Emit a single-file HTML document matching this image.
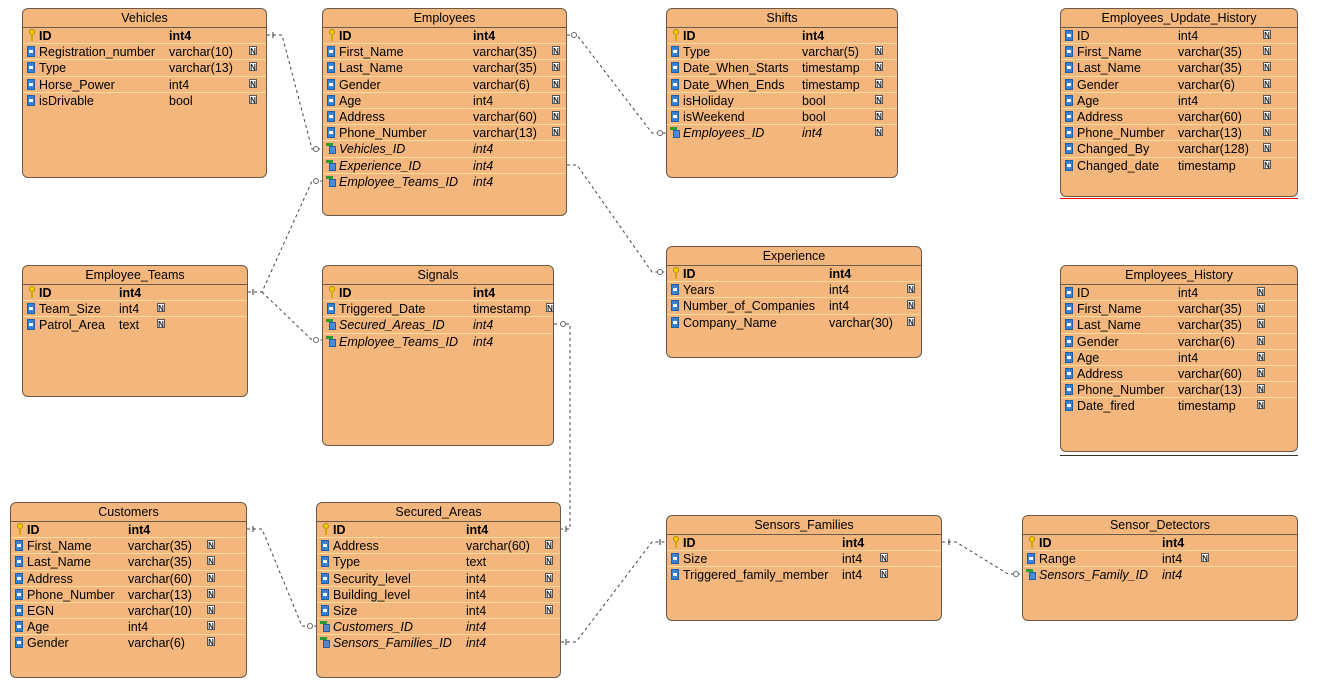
<!DOCTYPE html>
<html><head><meta charset="utf-8"><style>
body{margin:0;width:1319px;height:691px;background:#fff;position:relative;overflow:hidden;font-family:"Liberation Sans",Arial,sans-serif;font-size:12.5px;color:#000}
.t{position:absolute;background:#F3B77D;border:1px solid #6b5a4a;border-radius:6px;box-sizing:border-box}
.h{height:18px;line-height:18px;text-align:center;border-bottom:1px solid #6b5a4a}
.r{position:relative;height:16.2px;line-height:16px;border-bottom:1px solid #f8dca0;box-sizing:border-box;white-space:nowrap}
.r.last{border-bottom:none}
.r span{position:absolute;top:0}
.n{left:16px}
.k{font-weight:bold}
.f{font-style:italic}
.ic{position:absolute;left:4px;top:2px;width:8px;height:11px;background:#3b7fd0;border:1px solid #1f5fa8;box-sizing:border-box}
.ic::after{content:"";position:absolute;left:1px;top:3px;width:4px;height:3px;background:#fff}
.key{position:absolute;left:6px;top:1px;width:4px;height:4px;border:1px solid #b08a00;border-radius:50%;background:#f2d000}
.key::after{content:"";position:absolute;left:1px;top:4px;width:2px;height:7px;background:#d4a800}
.fk{position:absolute;left:3px;top:2px;width:10px;height:11px}
.fk::before{content:"";position:absolute;left:0;top:0;width:7px;height:3px;background:#2a9a3a}
.fk::after{content:"";position:absolute;left:3px;top:3px;width:7px;height:8px;background:#4a8ad8;border:1px solid #1f5fa8;box-sizing:border-box}
.nn{position:absolute;top:2px;width:8px;height:9px;font-size:8px;line-height:9px;font-weight:bold;font-style:normal;text-align:center;background:#fff;color:#222;border:1px solid #555;box-sizing:border-box}
svg{position:absolute;left:0;top:0}
</style></head><body>

<div class="t" style="left:22px;top:8px;width:245px;height:170px">
<div class="h">Vehicles</div>
<div class="r k"><i class="key"></i><span class="n">ID</span><span style="left:146px">int4</span></div>
<div class="r"><i class="ic"></i><span class="n">Registration_number</span><span style="left:146px">varchar(10)</span><i class="nn" style="left:226px">N</i></div>
<div class="r"><i class="ic"></i><span class="n">Type</span><span style="left:146px">varchar(13)</span><i class="nn" style="left:226px">N</i></div>
<div class="r"><i class="ic"></i><span class="n">Horse_Power</span><span style="left:146px">int4</span><i class="nn" style="left:226px">N</i></div>
<div class="r last"><i class="ic"></i><span class="n">isDrivable</span><span style="left:146px">bool</span><i class="nn" style="left:226px">N</i></div>
</div>

<div class="t" style="left:322px;top:8px;width:245px;height:208px">
<div class="h">Employees</div>
<div class="r k"><i class="key"></i><span class="n">ID</span><span style="left:150px">int4</span></div>
<div class="r"><i class="ic"></i><span class="n">First_Name</span><span style="left:150px">varchar(35)</span><i class="nn" style="left:229px">N</i></div>
<div class="r"><i class="ic"></i><span class="n">Last_Name</span><span style="left:150px">varchar(35)</span><i class="nn" style="left:229px">N</i></div>
<div class="r"><i class="ic"></i><span class="n">Gender</span><span style="left:150px">varchar(6)</span><i class="nn" style="left:229px">N</i></div>
<div class="r"><i class="ic"></i><span class="n">Age</span><span style="left:150px">int4</span><i class="nn" style="left:229px">N</i></div>
<div class="r"><i class="ic"></i><span class="n">Address</span><span style="left:150px">varchar(60)</span><i class="nn" style="left:229px">N</i></div>
<div class="r"><i class="ic"></i><span class="n">Phone_Number</span><span style="left:150px">varchar(13)</span><i class="nn" style="left:229px">N</i></div>
<div class="r f"><i class="fk"></i><span class="n">Vehicles_ID</span><span style="left:150px">int4</span></div>
<div class="r f"><i class="fk"></i><span class="n">Experience_ID</span><span style="left:150px">int4</span></div>
<div class="r f last"><i class="fk"></i><span class="n">Employee_Teams_ID</span><span style="left:150px">int4</span></div>
</div>

<div class="t" style="left:666px;top:8px;width:232px;height:170px">
<div class="h">Shifts</div>
<div class="r k"><i class="key"></i><span class="n">ID</span><span style="left:135px">int4</span></div>
<div class="r"><i class="ic"></i><span class="n">Type</span><span style="left:135px">varchar(5)</span><i class="nn" style="left:208px">N</i></div>
<div class="r"><i class="ic"></i><span class="n">Date_When_Starts</span><span style="left:135px">timestamp</span><i class="nn" style="left:208px">N</i></div>
<div class="r"><i class="ic"></i><span class="n">Date_When_Ends</span><span style="left:135px">timestamp</span><i class="nn" style="left:208px">N</i></div>
<div class="r"><i class="ic"></i><span class="n">isHoliday</span><span style="left:135px">bool</span><i class="nn" style="left:208px">N</i></div>
<div class="r"><i class="ic"></i><span class="n">isWeekend</span><span style="left:135px">bool</span><i class="nn" style="left:208px">N</i></div>
<div class="r f last"><i class="fk"></i><span class="n">Employees_ID</span><span style="left:135px">int4</span><i class="nn" style="left:208px">N</i></div>
</div>

<div class="t" style="left:1060px;top:8px;width:238px;height:189px">
<div class="h">Employees_Update_History</div>
<div class="r"><i class="ic"></i><span class="n">ID</span><span style="left:117px">int4</span><i class="nn" style="left:202px">N</i></div>
<div class="r"><i class="ic"></i><span class="n">First_Name</span><span style="left:117px">varchar(35)</span><i class="nn" style="left:202px">N</i></div>
<div class="r"><i class="ic"></i><span class="n">Last_Name</span><span style="left:117px">varchar(35)</span><i class="nn" style="left:202px">N</i></div>
<div class="r"><i class="ic"></i><span class="n">Gender</span><span style="left:117px">varchar(6)</span><i class="nn" style="left:202px">N</i></div>
<div class="r"><i class="ic"></i><span class="n">Age</span><span style="left:117px">int4</span><i class="nn" style="left:202px">N</i></div>
<div class="r"><i class="ic"></i><span class="n">Address</span><span style="left:117px">varchar(60)</span><i class="nn" style="left:202px">N</i></div>
<div class="r"><i class="ic"></i><span class="n">Phone_Number</span><span style="left:117px">varchar(13)</span><i class="nn" style="left:202px">N</i></div>
<div class="r"><i class="ic"></i><span class="n">Changed_By</span><span style="left:117px">varchar(128)</span><i class="nn" style="left:202px">N</i></div>
<div class="r last"><i class="ic"></i><span class="n">Changed_date</span><span style="left:117px">timestamp</span><i class="nn" style="left:202px">N</i></div>
</div>
<div style="position:absolute;left:1060px;top:198px;width:238px;height:1px;background:#e00"></div>

<div class="t" style="left:22px;top:265px;width:226px;height:132px">
<div class="h">Employee_Teams</div>
<div class="r k"><i class="key"></i><span class="n">ID</span><span style="left:96px">int4</span></div>
<div class="r"><i class="ic"></i><span class="n">Team_Size</span><span style="left:96px">int4</span><i class="nn" style="left:134px">N</i></div>
<div class="r last"><i class="ic"></i><span class="n">Patrol_Area</span><span style="left:96px">text</span><i class="nn" style="left:134px">N</i></div>
</div>

<div class="t" style="left:322px;top:265px;width:232px;height:181px">
<div class="h">Signals</div>
<div class="r k"><i class="key"></i><span class="n">ID</span><span style="left:150px">int4</span></div>
<div class="r"><i class="ic"></i><span class="n">Triggered_Date</span><span style="left:150px">timestamp</span><i class="nn" style="left:223px">N</i></div>
<div class="r f"><i class="fk"></i><span class="n">Secured_Areas_ID</span><span style="left:150px">int4</span></div>
<div class="r f last"><i class="fk"></i><span class="n">Employee_Teams_ID</span><span style="left:150px">int4</span></div>
</div>

<div class="t" style="left:666px;top:246px;width:256px;height:112px">
<div class="h">Experience</div>
<div class="r k"><i class="key"></i><span class="n">ID</span><span style="left:162px">int4</span></div>
<div class="r"><i class="ic"></i><span class="n">Years</span><span style="left:162px">int4</span><i class="nn" style="left:240px">N</i></div>
<div class="r"><i class="ic"></i><span class="n">Number_of_Companies</span><span style="left:162px">int4</span><i class="nn" style="left:240px">N</i></div>
<div class="r last"><i class="ic"></i><span class="n">Company_Name</span><span style="left:162px">varchar(30)</span><i class="nn" style="left:240px">N</i></div>
</div>

<div class="t" style="left:1060px;top:265px;width:238px;height:187px">
<div class="h">Employees_History</div>
<div class="r"><i class="ic"></i><span class="n">ID</span><span style="left:117px">int4</span><i class="nn" style="left:196px">N</i></div>
<div class="r"><i class="ic"></i><span class="n">First_Name</span><span style="left:117px">varchar(35)</span><i class="nn" style="left:196px">N</i></div>
<div class="r"><i class="ic"></i><span class="n">Last_Name</span><span style="left:117px">varchar(35)</span><i class="nn" style="left:196px">N</i></div>
<div class="r"><i class="ic"></i><span class="n">Gender</span><span style="left:117px">varchar(6)</span><i class="nn" style="left:196px">N</i></div>
<div class="r"><i class="ic"></i><span class="n">Age</span><span style="left:117px">int4</span><i class="nn" style="left:196px">N</i></div>
<div class="r"><i class="ic"></i><span class="n">Address</span><span style="left:117px">varchar(60)</span><i class="nn" style="left:196px">N</i></div>
<div class="r"><i class="ic"></i><span class="n">Phone_Number</span><span style="left:117px">varchar(13)</span><i class="nn" style="left:196px">N</i></div>
<div class="r last"><i class="ic"></i><span class="n">Date_fired</span><span style="left:117px">timestamp</span><i class="nn" style="left:196px">N</i></div>
</div>
<div style="position:absolute;left:1060px;top:455px;width:238px;height:1px;background:#333"></div>

<div class="t" style="left:10px;top:502px;width:237px;height:176px">
<div class="h">Customers</div>
<div class="r k"><i class="key"></i><span class="n">ID</span><span style="left:117px">int4</span></div>
<div class="r"><i class="ic"></i><span class="n">First_Name</span><span style="left:117px">varchar(35)</span><i class="nn" style="left:196px">N</i></div>
<div class="r"><i class="ic"></i><span class="n">Last_Name</span><span style="left:117px">varchar(35)</span><i class="nn" style="left:196px">N</i></div>
<div class="r"><i class="ic"></i><span class="n">Address</span><span style="left:117px">varchar(60)</span><i class="nn" style="left:196px">N</i></div>
<div class="r"><i class="ic"></i><span class="n">Phone_Number</span><span style="left:117px">varchar(13)</span><i class="nn" style="left:196px">N</i></div>
<div class="r"><i class="ic"></i><span class="n">EGN</span><span style="left:117px">varchar(10)</span><i class="nn" style="left:196px">N</i></div>
<div class="r"><i class="ic"></i><span class="n">Age</span><span style="left:117px">int4</span><i class="nn" style="left:196px">N</i></div>
<div class="r last"><i class="ic"></i><span class="n">Gender</span><span style="left:117px">varchar(6)</span><i class="nn" style="left:196px">N</i></div>
</div>

<div class="t" style="left:316px;top:502px;width:245px;height:176px">
<div class="h">Secured_Areas</div>
<div class="r k"><i class="key"></i><span class="n">ID</span><span style="left:149px">int4</span></div>
<div class="r"><i class="ic"></i><span class="n">Address</span><span style="left:149px">varchar(60)</span><i class="nn" style="left:228px">N</i></div>
<div class="r"><i class="ic"></i><span class="n">Type</span><span style="left:149px">text</span><i class="nn" style="left:228px">N</i></div>
<div class="r"><i class="ic"></i><span class="n">Security_level</span><span style="left:149px">int4</span><i class="nn" style="left:228px">N</i></div>
<div class="r"><i class="ic"></i><span class="n">Building_level</span><span style="left:149px">int4</span><i class="nn" style="left:228px">N</i></div>
<div class="r"><i class="ic"></i><span class="n">Size</span><span style="left:149px">int4</span><i class="nn" style="left:228px">N</i></div>
<div class="r f"><i class="fk"></i><span class="n">Customers_ID</span><span style="left:149px">int4</span></div>
<div class="r f last"><i class="fk"></i><span class="n">Sensors_Families_ID</span><span style="left:149px">int4</span></div>
</div>

<div class="t" style="left:666px;top:515px;width:276px;height:106px">
<div class="h">Sensors_Families</div>
<div class="r k"><i class="key"></i><span class="n">ID</span><span style="left:175px">int4</span></div>
<div class="r"><i class="ic"></i><span class="n">Size</span><span style="left:175px">int4</span><i class="nn" style="left:213px">N</i></div>
<div class="r last"><i class="ic"></i><span class="n">Triggered_family_member</span><span style="left:175px">int4</span><i class="nn" style="left:213px">N</i></div>
</div>

<div class="t" style="left:1022px;top:515px;width:276px;height:106px">
<div class="h">Sensor_Detectors</div>
<div class="r k"><i class="key"></i><span class="n">ID</span><span style="left:139px">int4</span></div>
<div class="r"><i class="ic"></i><span class="n">Range</span><span style="left:139px">int4</span><i class="nn" style="left:178px">N</i></div>
<div class="r f last"><i class="fk"></i><span class="n">Sensors_Family_ID</span><span style="left:139px">int4</span></div>
</div>

<svg width="1319" height="691" viewBox="0 0 1319 691">
<g fill="none" stroke="#444" stroke-width="1" stroke-dasharray="3,3">
<path d="M267 35 H282 L312 149 H322"/>
<path d="M567 35 H577 L652 133 H666"/>
<path d="M248 292 H262 L312 181 H322"/>
<path d="M262 292 L312 340 H322"/>
<path d="M567 165 H577 L652 272 H666"/>
<path d="M554 324 H570 V529 H561"/>
<path d="M247 529 H262 L302 626 H316"/>
<path d="M561 642 H576 L652 542 H666"/>
<path d="M942 542 H956 L1008 574 H1022"/>
</g>
<g fill="#fff" stroke="#666">
<circle cx="574" cy="35" r="2.5"/><circle cx="660" cy="133" r="2.5"/>
<circle cx="316" cy="149" r="2.5"/><circle cx="316" cy="181" r="2.5"/>
<circle cx="316" cy="340" r="2.5"/><circle cx="563" cy="324" r="2.5"/>
<circle cx="310" cy="626" r="2.5"/><circle cx="1016" cy="574" r="2.5"/>
<circle cx="660" cy="272" r="2.5"/>
</g>
<g stroke="#333">
<path d="M273 32 V38"/><path d="M253 289 V295"/><path d="M566 526 V532"/>
<path d="M253 526 V532"/><path d="M566 639 V645"/><path d="M660 539 V545"/><path d="M949 539 V545"/>
</g>
</svg>
</body></html>
